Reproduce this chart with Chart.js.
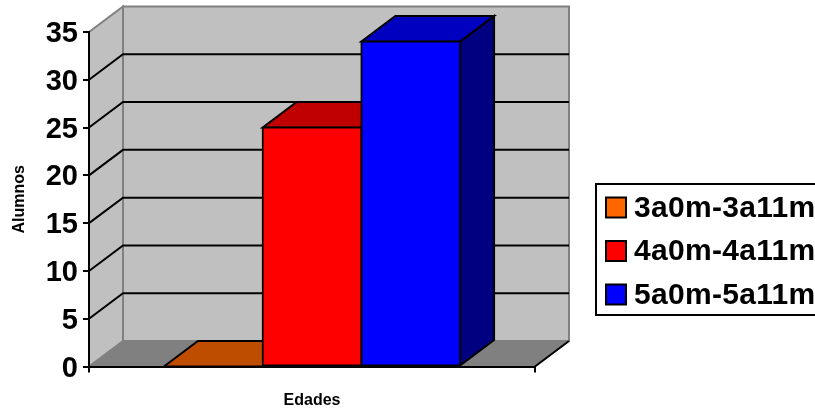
<!DOCTYPE html>
<html>
<head>
<meta charset="utf-8">
<style>
  html, body { margin: 0; padding: 0; background: #fff; overflow: hidden; }
  canvas { display: block; }
</style>
<script src="https://cdn.jsdelivr.net/npm/chart.js@4"></script>
</head>
<body>
<canvas id="edadesChart" width="815" height="408"></canvas>
<script>
var categories = ["Edades"];
var rangos = ["3a0m-3a11m", "4a0m-4a11m", "5a0m-5a11m"];
var alumnos3 = [0];
var alumnos4 = [25];
var alumnos5 = [34];
var yTicks = [0, 5, 10, 15, 20, 25, 30, 35];

var frontColors = ["#FF6600", "#FF0000", "#0000FF"];
var topColors = ["#BF4D00", "#C00000", "#0000C0"];
var sideColors = ["#803300", "#800000", "#000080"];

var depthX = 34;
var depthY = 25.5;
var font = "'Liberation Sans', Arial, sans-serif";

function poly(ctx, pts, fill, stroke, width) {
    ctx.beginPath();
    ctx.moveTo(pts[0][0], pts[0][1]);
    for (var i = 1; i < pts.length; i++) ctx.lineTo(pts[i][0], pts[i][1]);
    ctx.closePath();
    ctx.fillStyle = fill;
    ctx.fill();
    if (stroke) {
        ctx.strokeStyle = stroke;
        ctx.lineWidth = width;
        ctx.lineJoin = "miter";
        ctx.stroke();
    }
}

// back wall, side wall, floor and their gridlines
var wallsPlugin = {
    id: "walls",
    beforeDraw: function(chart) {
        var ctx = chart.ctx, a = chart.chartArea, y = chart.scales.y;
        var l = a.left, r = a.right, t = a.top, b = a.bottom;
        ctx.save();
        poly(ctx, [[l + depthX, t - depthY], [r + depthX, t - depthY], [r + depthX, b - depthY], [l + depthX, b - depthY]], "#C0C0C0", "#808080", 2);
        poly(ctx, [[l, t], [l + depthX, t - depthY], [l + depthX, b - depthY], [l, b]], "#C0C0C0", "#808080", 2);
        poly(ctx, [[l, b], [l + depthX, b - depthY], [r + depthX, b - depthY], [r, b]], "#808080", "#808080", 1);

        ctx.strokeStyle = "#000";
        ctx.lineWidth = 2;
        y.ticks.forEach(function(tick) {
            if (tick.value === 0 || tick.value === yTicks[yTicks.length - 1]) return;
            var py = y.getPixelForValue(tick.value);
            ctx.beginPath();
            ctx.moveTo(l, py);
            ctx.lineTo(l + depthX, py - depthY);
            ctx.lineTo(r + depthX, py - depthY);
            ctx.stroke();
        });

        // floor edge on the right and the two outer ticks of the x axis
        ctx.beginPath();
        ctx.moveTo(r, b);
        ctx.lineTo(r + depthX, b - depthY);
        ctx.moveTo(l, b);
        ctx.lineTo(l, b + 6);
        ctx.moveTo(r, b);
        ctx.lineTo(r, b + 6);
        ctx.stroke();
        ctx.restore();
    }
};

// top and side faces of each bar, taken from the bar elements
var depthPlugin = {
    id: "depth",
    beforeDatasetsDraw: function(chart) {
        var ctx = chart.ctx;
        ctx.save();
        chart.data.datasets.forEach(function(ds, i) {
            var bar = chart.getDatasetMeta(i).data[0];
            var x0 = bar.x - bar.width / 2, x1 = bar.x + bar.width / 2;
            var top = bar.y, base = bar.base;
            poly(ctx, [[x1, top], [x1 + depthX, top - depthY], [x1 + depthX, base - depthY], [x1, base]], sideColors[i], "#000", 2);
            poly(ctx, [[x0, top], [x0 + depthX, top - depthY], [x1 + depthX, top - depthY], [x1, top]], topColors[i], "#000", 2);
        });
        ctx.restore();
    }
};

// framed legend on the right, runs off the canvas edge
var legendBoxPlugin = {
    id: "legendBox",
    afterDraw: function(chart) {
        var ctx = chart.ctx;
        ctx.save();
        ctx.fillStyle = "#fff";
        ctx.strokeStyle = "#000";
        ctx.lineWidth = 2;
        ctx.fillRect(596, 184, 240, 131);
        ctx.strokeRect(596, 184, 240, 131);
        ctx.font = "bold 30px " + font;
        ctx.letterSpacing = "0.3px";
        ctx.textBaseline = "middle";
        chart.data.datasets.forEach(function(ds, i) {
            var cy = 207.5 + i * 43.5;
            ctx.fillStyle = frontColors[i];
            ctx.fillRect(606, cy - 10, 20, 20);
            ctx.strokeRect(606, cy - 10, 20, 20);
            ctx.fillStyle = "#000";
            ctx.fillText(ds.label, 634, cy + 1);
        });
        ctx.restore();
    }
};

var edadesChart = document.getElementById("edadesChart");
var myChart = new Chart(edadesChart, {
    type: "bar",
    data: {
        labels: categories,
        datasets: [
            { label: rangos[0], data: alumnos3, backgroundColor: frontColors[0] },
            { label: rangos[1], data: alumnos4, backgroundColor: frontColors[1] },
            { label: rangos[2], data: alumnos5, backgroundColor: frontColors[2] }
        ]
    },
    options: {
        responsive: false,
        animation: false,
        categoryPercentage: 0.664,
        barPercentage: 1,
        borderColor: "#000",
        borderWidth: 2,
        borderSkipped: false,
        inflateAmount: 1,
        layout: {
            padding: { left: 0, top: 32, right: 280, bottom: 0 }
        },
        plugins: {
            legend: { display: false },
            tooltip: { enabled: false }
        },
        scales: {
            x: {
                afterFit: function(scale) { scale.height = 41.5; },
                grid: { display: false },
                border: { display: true, color: "#000", width: 2 },
                ticks: { display: false },
                title: {
                    display: true,
                    text: "Edades",
                    color: "#000",
                    font: { family: font, size: 16, weight: "bold" },
                    padding: { top: 0, bottom: -2 }
                }
            },
            y: {
                min: 0,
                max: 35,
                afterFit: function(scale) { scale.width = 89; },
                afterBuildTicks: function(scale) {
                    scale.ticks = yTicks.map(function(v) { return { value: v }; });
                },
                grid: { drawOnChartArea: false, drawTicks: true, tickLength: 6, color: "#000", lineWidth: 2 },
                border: { display: true, color: "#000", width: 2 },
                ticks: {
                    color: "#000",
                    padding: 5,
                    labelOffset: 2,
                    font: { family: font, size: 29, weight: "bold" }
                },
                title: {
                    display: true,
                    text: "Alumnos",
                    color: "#000",
                    font: { family: font, size: 16, weight: "bold" },
                    padding: { top: 10, bottom: 0 }
                }
            }
        }
    },
    plugins: [wallsPlugin, depthPlugin, legendBoxPlugin]
});
</script>
</body>
</html>
